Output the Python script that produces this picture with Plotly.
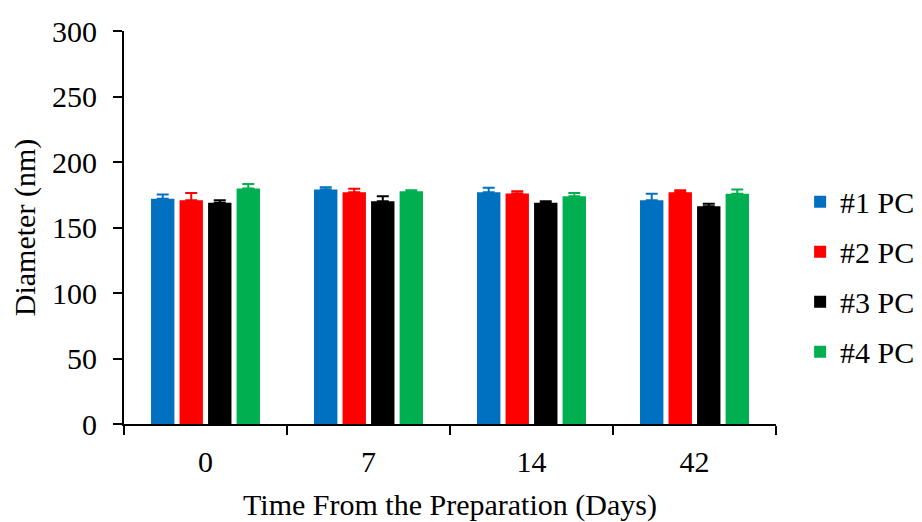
import plotly.graph_objects as go

categories = ["0", "7", "14", "42"]
series_names = ["#1 PC", "#2 PC", "#3 PC", "#4 PC"]
colors = ["#0070C0", "#FF0000", "#000000", "#00B050"]

pc1 = [171.9, 179.0, 176.9, 170.8]
pc2 = [170.8, 176.9, 175.9, 176.9]
pc3 = [168.8, 170.1, 168.8, 166.3]
pc4 = [179.7, 177.7, 173.9, 175.7]

err1 = [3.3, 1.8, 3.4, 5.0]
err2 = [5.6, 2.6, 1.8, 1.5]
err3 = [2.0, 3.8, 1.3, 1.8]
err4 = [3.6, 0.8, 2.5, 3.3]

values = [pc1, pc2, pc3, pc4]
errors = [err1, err2, err3, err4]

FONT = "Liberation Serif, Times New Roman, DejaVu Serif, serif"

fig = go.Figure()
for i in range(4):
    fig.add_trace(go.Bar(
        x=categories, y=values[i], name=series_names[i],
        marker=dict(color=colors[i], line=dict(width=0)),
        error_y=dict(type="data", array=errors[i], arrayminus=[0]*4, symmetric=False,
                     color=colors[i], thickness=2, width=6),
        legendgroup=str(i),
    ))

fig.update_layout(
    width=922, height=522,
    margin=dict(l=124, r=146, t=31, b=98, autoexpand=False),
    paper_bgcolor="white", plot_bgcolor="white",
    barmode="group", bargap=0.30, bargroupgap=0.18,
    font=dict(family=FONT, size=30, color="black"),
    showlegend=True,
    legend=dict(x=1.037, xanchor="left", y=0.375, yanchor="middle",
                font=dict(family=FONT, size=30, color="black"),
                traceorder="grouped", tracegroupgap=8,
                bgcolor="rgba(0,0,0,0)", itemwidth=30),
    xaxis=dict(
        type="category", tickson="boundaries", ticks="outside", ticklen=9, tickwidth=2,
        tickcolor="black", showline=True, linecolor="black", linewidth=2,
        showgrid=False, zeroline=False, ticklabelstandoff=10,
        tickfont=dict(family=FONT, size=30, color="black"),
        title=dict(text="Time From the Preparation (Days)", standoff=19,
                   font=dict(family=FONT, size=30, color="black")),
    ),
    yaxis=dict(
        range=[0, 300], tickvals=[0, 50, 100, 150, 200, 250, 300],
        ticks="outside", ticklen=9, tickwidth=2, tickcolor="black",
        showline=True, linecolor="black", linewidth=2,
        showgrid=False, zeroline=False, ticklabelstandoff=10,
        tickfont=dict(family=FONT, size=30, color="black"),
        title=dict(text="Diameter (nm)", standoff=8,
                   font=dict(family=FONT, size=30, color="black")),
    ),
)

fig.write_html("out.html")
